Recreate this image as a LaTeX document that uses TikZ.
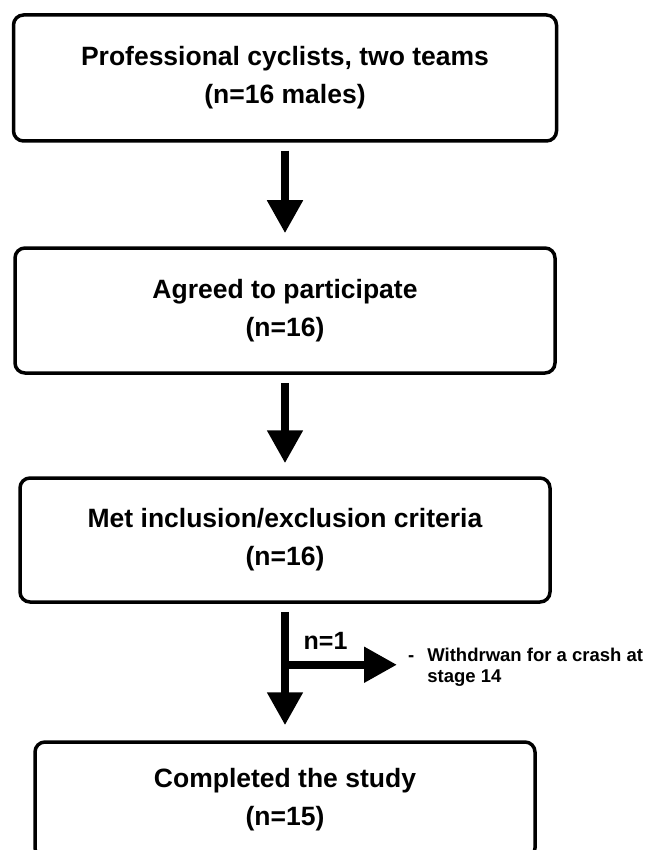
\documentclass[tikz,border=0pt]{standalone}
\usepackage{fontspec}
\setmainfont{Liberation Sans}
\usepackage{tikz}
\usetikzlibrary{positioning,arrows.meta}

\begin{document}
\begin{tikzpicture}[x=1pt,y=-1pt,on grid,
    box/.style={draw,line width=3.5pt,rounded corners=10pt,minimum height=126pt,
      align=center,font=\fontsize{26.5}{38}\selectfont\bfseries},
    flow/.style={draw,line width=8pt,-{Triangle[length=33pt,width=34pt]},
      shorten <=8pt,shorten >=13pt}]
    \useasboundingbox (0,0) rectangle (649,850);
    \clip (0,0) rectangle (649,850);
    \node[box,minimum width=543pt] (B1) at (285,78) {Professional cyclists, two teams\\(n=16 males)};
    \node[box,minimum width=540pt,minimum height=125pt] (B2) [below = 232.5pt of B1] {Agreed to participate\\(n=16)};
    \node[box,minimum width=530pt,minimum height=124pt] (B3) [below = 229.5pt of B2] {Met inclusion/exclusion criteria\\(n=16)};
    \node[box,minimum width=500pt,minimum height=116pt] (B4) [below = 260pt of B3] {Completed the study\\(n=15)};
    \coordinate[below = 61pt of B3.south] (split);
    \node[anchor=west,inner sep=0pt,font=\fontsize{18.5}{21}\selectfont\bfseries] (excl) at (408,668)
      {\begin{tabular}{@{}l@{\hspace{13pt}}l@{}}- & Withdrwan for a crash at\\ & stage 14\end{tabular}};
    \path[flow]
    (B1) edge (B2)
    (B2) edge (B3)
    (B3) edge [shorten >=15pt] (B4)
    ;
    \draw[flow,shorten <=0pt,shorten >=11pt] (split) -- (split -| excl.west)
      node (cnt) [pos=0.33,anchor=base,yshift=15pt,font=\fontsize{25}{29}\selectfont\bfseries] {n=1};
  \end{tikzpicture}
\end{document}
